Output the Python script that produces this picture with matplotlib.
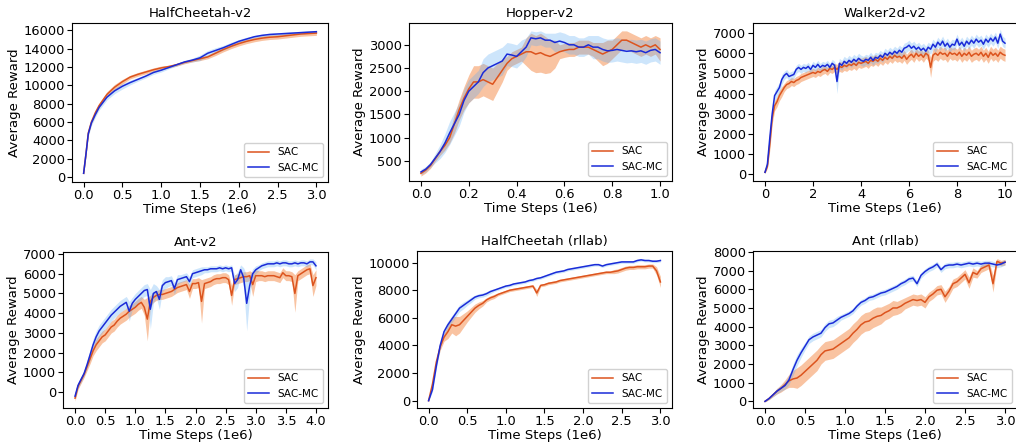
"""
SAC vs SAC-MC learning curves on six benchmark tasks (2x3 grid)
"""

import numpy as np
import matplotlib
matplotlib.use('Agg')
import matplotlib.pyplot as plt

# ============================================================
# data
# ============================================================

# ---- HalfCheetah-v2 ----
hc_x = [0, 0.03, 0.06, 0.1, 0.15, 0.2, 0.3, 0.4, 0.5, 0.6, 0.7, 0.8, 0.9, 1.0,
        1.1, 1.2, 1.3, 1.4, 1.5, 1.6, 1.7, 1.8, 1.9, 2.0, 2.1, 2.2, 2.3, 2.4,
        2.5, 2.6, 2.7, 2.8, 2.9, 3.0]
hc_sac = [400, 2500, 4800, 6000, 7000, 7800, 9000, 9800, 10400, 10900, 11200,
          11450, 11700, 11900, 12050, 12250, 12500, 12700, 12900, 13100, 13500,
          13900, 14250, 14550, 14800, 15000, 15150, 15250, 15300, 15400, 15500,
          15600, 15650, 15700]
hc_sac_std = [100, 200, 250, 250, 250, 250, 300, 300, 250, 200, 200, 200, 200,
              200, 150, 150, 150, 150, 200, 200, 250, 250, 250, 250, 250, 250,
              250, 250, 250, 250, 250, 250, 250, 250]
hc_mc = [400, 2500, 4700, 5900, 6800, 7600, 8700, 9400, 9900, 10300, 10650,
         11000, 11400, 11650, 11950, 12250, 12550, 12750, 13000, 13500, 13800,
         14100, 14450, 14800, 15050, 15300, 15450, 15550, 15600, 15650, 15700,
         15750, 15800, 15850]
hc_mc_std = [100, 200, 250, 300, 300, 300, 300, 300, 300, 250, 200, 200, 200,
             200, 150, 150, 150, 200, 300, 300, 300, 250, 250, 200, 200, 150,
             150, 150, 150, 150, 150, 150, 150, 150]

# ---- Hopper-v2 (step 0.02) ----
hop_x = np.linspace(0, 1.0, 51)
hop_sac = [230, 300, 400, 550, 700, 830, 1000, 1300, 1600, 1850, 2050, 2200,
           2200, 2250, 2200, 2150, 2300, 2450, 2600, 2700, 2750, 2800, 2850,
           2850, 2800, 2830, 2780, 2750, 2800, 2850, 2880, 2900, 2900, 2950,
           2950, 2950, 2900, 2850, 2800, 2850, 2900, 3000, 3100, 3100, 3050,
           3000, 2950, 3000, 2950, 3000, 2900]
hop_sac_std = [60, 60, 60, 60, 80, 100, 120, 200, 220, 250, 300, 350, 350, 350,
               350, 350, 300, 250, 150, 150, 150, 150, 300, 400, 400, 420, 400,
               350, 300, 150, 150, 150, 150, 150, 150, 150, 150, 200, 250, 250,
               200, 200, 200, 200, 200, 200, 200, 200, 200, 200, 250]
hop_mc = [260, 320, 420, 560, 700, 880, 1100, 1300, 1500, 1800, 2000, 2100,
          2200, 2400, 2500, 2550, 2600, 2650, 2800, 2780, 2750, 2850, 2950, 3150,
          3130, 3150, 3100, 3100, 3050, 3080, 3050, 3000, 3000, 2950, 2950, 3000,
          2950, 2950, 2900, 2870, 2880, 2900, 2880, 2860, 2870, 2850, 2870, 2830,
          2880, 2900, 2830]
hop_mc_std = [60, 60, 60, 100, 150, 200, 250, 250, 250, 250, 250, 250, 250,
              300, 300, 300, 300, 300, 250, 250, 250, 250, 200, 150, 150, 150,
              150, 150, 200, 200, 200, 200, 200, 200, 200, 200, 250, 250, 250,
              250, 250, 250, 250, 250, 250, 250, 250, 250, 250, 250, 250]

# ---- Walker2d-v2 (step 0.1) ----
wk_x = np.linspace(0, 10, 101)
wk_sac = [100, 400, 1500, 2800, 3400, 3600, 3900, 4100, 4300, 4450,
          4500, 4600, 4550, 4650, 4700, 4800, 4850, 4900, 4950, 5000,
          5050, 5000, 5100, 5050, 5150, 5200, 5100, 5250, 5200, 5300,
          5200, 5350, 5300, 5400, 5350, 5450, 5400, 5500, 5400, 5550,
          5500, 5550, 5600, 5500, 5650, 5600, 5700, 5600, 5750, 5650,
          5800, 5700, 5850, 5750, 5900, 5800, 5850, 5750, 5900, 5700,
          5850, 5950, 5800, 6000, 5850, 5950, 5800, 6000, 5900, 5300,
          5900, 6000, 5900, 6050, 5950, 6000, 5850, 6050, 5950, 6000,
          5900, 6050, 5850, 6000, 5900, 6050, 5850, 5950, 6000, 5900,
          6050, 5850, 6000, 5800, 6050, 5900, 6000, 5850, 6050, 5950,
          5900]
wk_sac_std = [50, 100, 300, 300, 250, 250, 250, 250, 200, 200] + [200] * 20 \
    + [250] * 39 + [500] + [300] * 31
wk_mc = [100, 500, 1800, 3000, 3900, 4100, 4300, 4700, 4900, 5000,
         4850, 4900, 4950, 5200, 5300, 5200, 5300, 5250, 5350, 5200,
         5400, 5300, 5450, 5300, 5400, 5350, 5450, 5300, 5500, 5400,
         4600, 5500, 5400, 5600, 5500, 5650, 5550, 5700, 5600, 5750,
         5650, 5600, 5700, 5650, 5800, 5650, 5800, 5750, 5900, 5800,
         6000, 5900, 6050, 5950, 6100, 6000, 6150, 6050, 6250, 6300,
         6400, 6250, 6350, 6200, 6300, 6150, 6250, 6100, 6300, 6200,
         6450, 6300, 6550, 6400, 6600, 6350, 6500, 6300, 6450, 6400,
         6700, 6400, 6550, 6350, 6600, 6450, 6650, 6500, 6700, 6550,
         6650, 6450, 6700, 6550, 6750, 6600, 6800, 6500, 6950, 6600,
         6500]
wk_mc_std = [50, 100, 300, 300, 250, 250, 250, 250, 200, 200] + [200] * 20 \
    + [600] + [250] * 70

# ---- Ant-v2 (step 0.05) ----
ant_x = np.linspace(0, 4, 81)
ant_sac = [-300, 300, 600, 900, 1300, 1700, 2100, 2400, 2600, 2800,
           2900, 3100, 3300, 3400, 3600, 3750, 3850, 3950, 4100, 4200,
           4300, 4450, 4550, 4300, 3700, 4600, 4800, 4900, 4950, 4950,
           5000, 5050, 5100, 5200, 5300, 5350, 5400, 5450, 5100, 5500,
           5500, 5550, 4600, 5500, 5550, 5600, 5700, 5750, 5750, 5800,
           5800, 5700, 4900, 5700, 5750, 5800, 5850, 5850, 5900, 5450,
           5900, 5900, 5900, 5850, 5900, 5900, 5900, 5850, 5800, 6050,
           5900, 5900, 5850, 5000, 5900, 6000, 6100, 6200, 6250, 5400,
           5800]
ant_sac_std = [150, 150, 150, 150, 200, 250, 250, 300, 300, 300,
               300, 300, 300, 300, 300, 300, 300, 300, 300, 300,
               300, 300, 300, 400, 1100, 300, 250, 250, 250, 250,
               250, 250, 250, 250, 250, 250, 250, 250, 350, 250,
               250, 250, 1100, 250, 250, 250, 250, 250, 250, 250,
               250, 250, 500, 250, 250, 250, 250, 250, 250, 600,
               300, 250, 250, 250, 250, 250, 250, 250, 250, 250,
               250, 250, 250, 950, 250, 250, 250, 250, 250, 550,
               400]
ant_mc = [-200, 350, 650, 950, 1400, 1900, 2400, 2800, 3100, 3300,
          3500, 3700, 3900, 4050, 4200, 4350, 4450, 4550, 4100, 4500,
          4700, 4850, 5000, 5150, 5200, 4200, 5000, 5100, 4700, 5400,
          5550, 5600, 5650, 5250, 5700, 5750, 5800, 5850, 5600, 6000,
          6050, 6100, 6150, 6200, 6200, 6250, 6250, 6250, 6300, 6250,
          6300, 6250, 6300, 5500, 5700, 6200, 5800, 4500, 5400, 6000,
          6200, 6300, 6400, 6450, 6500, 6500, 6500, 6550, 6500, 6550,
          6550, 6500, 6500, 6550, 6500, 6550, 6550, 6500, 6600, 6600,
          6400]
ant_mc_std = [150, 150, 150, 150, 200, 250, 300, 300, 300, 300,
              300, 300, 300, 300, 300, 300, 300, 300, 500, 300,
              300, 300, 300, 300, 300, 1000, 500, 300, 500, 300,
              300, 250, 250, 300, 250, 200, 200, 200, 250, 200,
              200, 200, 200, 150, 150, 150, 150, 150, 150, 150,
              150, 150, 150, 400, 400, 250, 500, 1400, 500, 250,
              200, 150, 150, 150, 150, 150, 150, 150, 150, 150,
              150, 150, 150, 150, 150, 150, 150, 150, 150, 150,
              200]

# ---- HalfCheetah (rllab) (step 0.05) ----
hcr_x = np.linspace(0, 3, 61)
hcr_sac = [0, 1200, 2800, 3900, 4600, 5000, 5500, 5400, 5500, 5800,
           6100, 6400, 6700, 6900, 7050, 7300, 7450, 7550, 7700, 7800,
           7900, 8000, 8050, 8100, 8150, 8200, 8250, 8300, 7800, 8350,
           8400, 8500, 8550, 8600, 8700, 8750, 8800, 8850, 8900, 8950,
           9000, 9050, 9100, 9150, 9200, 9250, 9300, 9300, 9350, 9400,
           9500, 9600, 9650, 9650, 9700, 9700, 9700, 9750, 9750, 9400,
           8600]
hcr_sac_std = [50, 150, 200, 250, 300, 500, 600, 700, 600, 500,
               400, 350, 300, 250, 200, 150, 150, 150, 100, 100,
               100, 100, 100, 100, 100, 100, 100, 100, 250, 100,
               100, 100, 100, 100, 100, 100, 100, 100, 100, 100,
               100, 100, 100, 100, 100, 100, 100, 100, 150, 150,
               150, 150, 150, 150, 150, 150, 150, 150, 150, 300,
               400]
hcr_mc = [0, 800, 2500, 4000, 5000, 5500, 5900, 6300, 6700, 6900,
          7100, 7300, 7500, 7600, 7650, 7750, 7900, 8000, 8100, 8200,
          8300, 8350, 8450, 8500, 8550, 8600, 8700, 8750, 8850, 8900,
          9000, 9100, 9200, 9300, 9350, 9400, 9500, 9550, 9600, 9650,
          9700, 9750, 9800, 9850, 9850, 9750, 9850, 9900, 9950, 10000,
          10050, 10050, 10050, 10050, 10150, 10200, 10150, 10150, 10100,
          10100, 10150]
hcr_mc_std = [50, 150, 200, 250, 250, 250, 250, 250, 250, 250,
              200, 200, 150, 150, 150, 150, 150, 100, 100, 100,
              100, 100, 100, 100, 100, 100, 100, 100, 100, 100,
              100, 100, 100, 100, 100, 100, 100, 100, 100, 100,
              100, 100, 100, 100, 100, 100, 100, 100, 100, 100,
              100, 100, 100, 100, 100, 100, 100, 100, 100, 100,
              100]

# ---- Ant (rllab) (step 0.05) ----
antr_x = np.linspace(0, 3, 61)
antr_sac = [0, 150, 350, 550, 700, 900, 1100, 1200, 1250, 1400,
            1600, 1800, 2000, 2200, 2500, 2700, 2750, 2800, 2950, 3100,
            3250, 3400, 3650, 3850, 4100, 4250, 4300, 4450, 4550, 4600,
            4750, 4850, 5000, 5000, 5100, 5250, 5350, 5450, 5400, 5450,
            5300, 5600, 5750, 5950, 6000, 5600, 5900, 6300, 6400, 6600,
            6800, 6350, 6900, 6800, 7100, 7200, 7300, 6300, 7500, 7400,
            7450]
antr_sac_std = [30, 60, 100, 150, 200, 250, 350, 450, 550, 550,
                550, 550, 550, 550, 500, 500, 500, 500, 500, 500,
                500, 500, 500, 500, 500, 500, 500, 500, 500, 450,
                400, 400, 400, 350, 350, 300, 300, 300, 300, 300,
                300, 250, 250, 250, 250, 300, 250, 250, 250, 250,
                250, 300, 250, 200, 200, 200, 200, 450, 150, 150,
                150]
antr_mc = [0, 150, 350, 550, 700, 850, 1150, 1700, 2200, 2600,
           2950, 3300, 3450, 3550, 3650, 3950, 4150, 4200, 4350, 4500,
           4600, 4700, 4850, 5100, 5300, 5400, 5550, 5600, 5700, 5800,
           5850, 5950, 6050, 6150, 6300, 6400, 6550, 6600, 6300, 6750,
           6950, 7100, 7200, 7350, 7050, 7250, 7300, 7300, 7350, 7300,
           7350, 7400, 7350, 7400, 7350, 7400, 7400, 7350, 7300, 7350,
           7450]
antr_mc_std = [30, 60, 100, 150, 150, 200, 250, 300, 300, 250,
               200, 200, 200, 200, 200, 200, 200, 200, 200, 150,
               150, 150, 150, 150, 150, 150, 150, 150, 150, 150,
               150, 150, 150, 150, 150, 150, 150, 150, 150, 150,
               150, 150, 150, 150, 150, 150, 150, 150, 150, 150,
               150, 150, 150, 150, 150, 150, 150, 150, 150, 150,
               150]

titles = ['HalfCheetah-v2', 'Hopper-v2', 'Walker2d-v2',
          'Ant-v2', 'HalfCheetah (rllab)', 'Ant (rllab)']

# ============================================================
# plotting
# ============================================================
SAC_COLOR = '#dc541e'
MC_COLOR = '#1a2bd8'
SAC_FILL = '#f27a30'
MC_FILL = '#5aaaf5'

W, H = 1016, 446
fig = plt.figure(figsize=(W / 100, H / 100), dpi=100)

# axes boxes in pixels: left, right, top, bottom
boxes = [(72, 328, 23, 182), (409, 672, 23, 181), (753, 1017, 23, 181),
         (63, 328, 252, 408), (417, 672, 251, 408), (753, 1017, 251, 408)]

panels = [
    (hc_x, hc_sac, hc_sac_std, hc_mc, hc_mc_std),
    (hop_x, hop_sac, hop_sac_std, hop_mc, hop_mc_std),
    (wk_x, wk_sac, wk_sac_std, wk_mc, wk_mc_std),
    (ant_x, ant_sac, ant_sac_std, ant_mc, ant_mc_std),
    (hcr_x, hcr_sac, hcr_sac_std, hcr_mc, hcr_mc_std),
    (antr_x, antr_sac, antr_sac_std, antr_mc, antr_mc_std),
]

ylims = [(-550, 16800), (65, 3470), (-330, 7500),
         (-800, 7100), (-530, 10840), (-355, 8050)]
xlims = [(-0.15, 3.15), (-0.05, 1.05), (-0.5, 10.5),
         (-0.2, 4.2), (-0.15, 3.15), (-0.15, 3.15)]
yticks = [np.arange(0, 16001, 2000), np.arange(500, 3001, 500),
          np.arange(0, 7001, 1000), np.arange(0, 7001, 1000),
          np.arange(0, 10001, 2000), np.arange(0, 8001, 1000)]
xticks = [np.arange(0, 3.01, 0.5), np.arange(0, 1.01, 0.2),
          np.arange(0, 10.1, 2), np.arange(0, 4.01, 0.5),
          np.arange(0, 3.01, 0.5), np.arange(0, 3.01, 0.5)]
xfmt = ['%.1f', '%.1f', '%d', '%.1f', '%.1f', '%.1f']

for i, (x, sac, sac_sd, mc, mc_sd) in enumerate(panels):
    l, r, t, b = boxes[i]
    ax = fig.add_axes([l / W, 1 - b / H, (r - l) / W, (b - t) / H])
    x = np.asarray(x, dtype=float)
    sac = np.asarray(sac, dtype=float)
    mc = np.asarray(mc, dtype=float)
    sac_sd = np.asarray(sac_sd, dtype=float)
    mc_sd = np.asarray(mc_sd, dtype=float)

    ax.fill_between(x, sac - sac_sd, sac + sac_sd, color=SAC_FILL,
                    alpha=0.45, linewidth=0)
    ax.fill_between(x, mc - mc_sd, mc + mc_sd, color=MC_FILL,
                    alpha=0.3, linewidth=0)
    ax.plot(x, sac, color=SAC_COLOR, linewidth=1.1, label='SAC')
    ax.plot(x, mc, color=MC_COLOR, linewidth=1.1, label='SAC-MC')

    ax.set_xlim(*xlims[i])
    ax.set_ylim(*ylims[i])
    ax.set_yticks(yticks[i])
    ax.set_xticks(xticks[i])
    ax.set_xticklabels([xfmt[i] % v for v in xticks[i]])
    ax.tick_params(labelsize=9.4, length=3.5, pad=1.5)
    ax.set_title(titles[i], fontsize=9.5, pad=4)
    ax.set_xlabel('Time Steps (1e6)', fontsize=9.5, labelpad=1)
    ax.set_ylabel('Average Reward', fontsize=9.5, labelpad=2)
    ax.legend(loc='lower right', fontsize=7.5, framealpha=0.9)

fig.savefig('out.png', dpi=100)
plt.close(fig)
print('saved out.png')
